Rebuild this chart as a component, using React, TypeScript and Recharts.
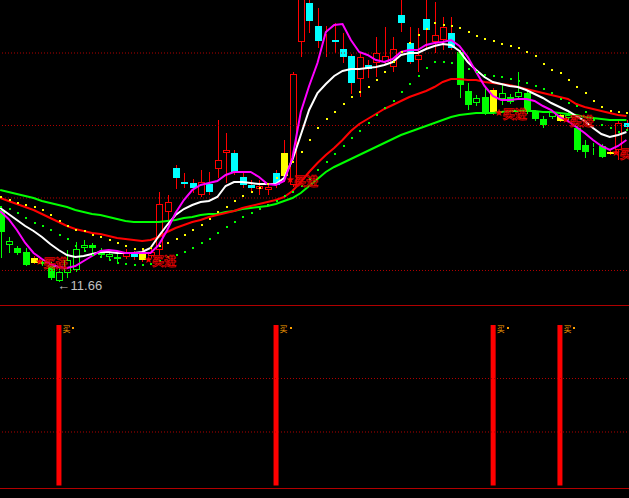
import React from 'react';
import { ComposedChart, Bar, Line, Scatter, XAxis, YAxis, ReferenceLine, LabelList } from 'recharts';

// ---- data (prices) ----
const opens = [12.38,12.03,12.00,11.96,11.90,11.86,11.83,11.67,11.75,11.78,
  12.00,12.03,11.97,11.91,11.91,11.91,11.94,11.96,11.92,11.98,
  12.36,12.80,12.66,12.65,12.53,12.64,12.79,12.95,12.95,12.71,
  12.63,12.59,12.58,12.75,12.72,12.63,14.06,14.45,14.22,14.14,
  14.08,13.99,13.92,13.69,13.83,13.85,13.86,13.81,14.33,14.05,
  13.88,14.29,14.06,14.08,14.15,13.96,13.57,13.45,13.51,13.58,
  13.49,13.51,13.51,13.55,13.36,13.29,13.31,13.33,13.30,13.20,
  13.03,13.00,13.02,12.96,12.98,13.25];
const closes = [12.16,12.07,11.95,11.83,11.85,11.84,11.70,11.76,11.88,11.99,
  12.03,12.00,11.93,11.94,11.89,11.95,11.91,11.88,11.96,12.44,
  12.46,12.70,12.64,12.60,12.66,12.56,12.88,12.98,12.75,12.63,
  12.60,12.62,12.61,12.63,12.95,13.74,14.53,14.27,14.07,14.15,
  14.06,13.91,13.65,13.91,13.79,13.95,13.92,13.99,14.25,13.86,
  13.93,14.18,14.13,14.21,14.00,13.63,13.43,13.50,13.35,13.35,
  13.55,13.46,13.56,13.36,13.29,13.23,13.36,13.27,13.33,12.98,
  12.96,13.01,12.91,12.94,13.25,13.21];
const highs = [12.40,12.11,12.02,12.00,11.92,11.89,11.86,11.82,11.98,12.06,
  12.08,12.05,12.00,11.98,11.96,11.99,11.97,12.00,11.99,12.56,
  12.53,12.83,12.75,12.69,12.78,12.76,13.28,13.15,12.98,12.76,
  12.68,12.68,12.65,12.78,13.08,13.76,14.58,14.50,14.40,14.22,
  14.25,14.15,13.94,13.95,13.88,14.11,14.21,14.11,14.53,14.21,
  14.20,14.51,14.46,14.31,14.31,13.98,13.65,13.53,13.61,13.60,
  13.63,13.54,13.76,13.58,13.38,13.32,13.38,13.35,13.36,13.22,
  13.08,13.05,13.04,12.98,13.28,13.28];
const lows = [11.90,11.95,11.93,11.82,11.84,11.82,11.68,11.66,11.70,11.76,
  11.96,11.95,11.90,11.89,11.86,11.89,11.88,11.86,11.90,11.92,
  12.23,12.59,12.60,12.55,12.51,12.53,12.70,12.65,12.73,12.60,
  12.56,12.53,12.53,12.60,12.66,12.61,13.91,14.15,14.00,13.91,
  13.95,13.85,13.54,13.51,13.70,13.71,13.84,13.76,14.16,13.84,
  13.76,14.00,13.95,13.98,13.98,13.50,13.38,13.42,13.33,13.33,
  13.43,13.44,13.50,13.34,13.27,13.20,13.29,13.26,13.28,12.96,
  12.90,12.93,12.90,12.93,12.88,13.18];
// g = weak trend, r = strong trend, y = signal day
const trendCodes = ('ggggyggggggggggrryrr' + 'rrrrrrrrrrrrrryrrrrr' +
  'rrrrrrrrrrrrrrrggggy' + 'gggggggygggggyrr').split('');

const ma5 = [12.37,12.29,12.18,12.05,11.95,11.89,11.84,11.81,11.80,11.82,
  11.87,11.92,11.97,11.98,11.97,11.95,11.95,11.95,11.95,12.03,
  12.18,12.35,12.48,12.58,12.63,12.65,12.67,12.73,12.76,12.76,
  12.76,12.71,12.64,12.63,12.67,12.90,13.36,13.62,13.85,14.16,
  14.23,14.24,14.08,13.96,13.93,13.88,13.86,13.89,13.96,13.98,
  13.98,14.03,14.05,14.06,14.08,14.02,13.91,13.76,13.62,13.52,
  13.48,13.48,13.49,13.49,13.47,13.42,13.38,13.31,13.27,13.21,
  13.15,13.08,13.02,12.98,13.02,13.08];
const ma10 = [12.40,12.34,12.28,12.22,12.17,12.11,12.04,11.98,11.93,11.91,
  11.92,11.94,11.96,11.96,11.95,11.95,11.95,11.96,12.00,12.12,
  12.23,12.33,12.39,12.43,12.46,12.47,12.51,12.62,12.66,12.66,
  12.65,12.64,12.64,12.64,12.70,12.88,13.13,13.38,13.55,13.64,
  13.72,13.77,13.79,13.79,13.80,13.81,13.83,13.86,13.93,13.95,
  13.95,13.99,14.02,14.04,14.03,13.97,13.86,13.78,13.71,13.66,
  13.64,13.62,13.61,13.58,13.54,13.50,13.45,13.41,13.37,13.32,
  13.27,13.20,13.14,13.11,13.13,13.16];
const ma20 = [12.50,12.47,12.44,12.41,12.38,12.34,12.30,12.26,12.22,12.19,
  12.17,12.15,12.14,12.12,12.10,12.09,12.08,12.07,12.08,12.11,
  12.16,12.20,12.23,12.26,12.28,12.31,12.33,12.35,12.37,12.40,
  12.42,12.44,12.46,12.48,12.51,12.57,12.66,12.76,12.85,12.93,
  13.00,13.08,13.17,13.24,13.29,13.34,13.39,13.43,13.47,13.51,
  13.54,13.57,13.61,13.66,13.69,13.69,13.68,13.68,13.66,13.65,
  13.64,13.63,13.61,13.59,13.57,13.55,13.53,13.51,13.49,13.44,
  13.41,13.39,13.37,13.35,13.33,13.32];
const ma60 = [12.58,12.56,12.54,12.52,12.50,12.47,12.45,12.43,12.41,12.38,
  12.36,12.34,12.33,12.31,12.29,12.27,12.26,12.26,12.26,12.26,
  12.27,12.28,12.30,12.31,12.33,12.34,12.34,12.36,12.37,12.39,
  12.40,12.41,12.42,12.44,12.47,12.50,12.55,12.62,12.69,12.76,
  12.81,12.85,12.89,12.93,12.97,13.01,13.05,13.09,13.13,13.16,
  13.19,13.22,13.25,13.28,13.31,13.33,13.34,13.35,13.35,13.35,
  13.36,13.37,13.37,13.37,13.37,13.36,13.36,13.35,13.34,13.33,
  13.31,13.30,13.29,13.28,13.28,13.28];
const dotUpper = [12.51,12.48,12.45,12.43,12.41,12.38,12.33,12.27,12.22,12.18,
  12.17,12.13,12.11,12.08,12.05,12.02,11.99,11.99,12.00,12.02,
  12.05,12.09,12.13,12.18,12.23,12.29,12.36,12.41,12.47,12.52,
  12.56,12.60,12.64,12.70,12.77,12.86,12.96,13.08,13.20,13.29,
  13.36,13.44,13.51,13.56,13.61,13.68,13.76,13.86,13.96,14.05,
  14.13,14.19,14.25,14.23,14.22,14.20,14.16,14.12,14.09,14.07,
  14.04,14.02,14.00,13.96,13.92,13.84,13.78,13.75,13.68,13.61,
  13.55,13.47,13.41,13.37,13.36,13.35];
const dotLower = [12.41,12.39,12.35,12.30,12.25,12.22,12.18,12.13,12.09,12.02,
  11.97,11.93,11.91,11.88,11.85,11.84,11.83,11.83,11.84,11.87,
  11.91,11.93,11.96,12.00,12.05,12.09,12.15,12.21,12.26,12.31,
  12.35,12.39,12.43,12.47,12.52,12.56,12.62,12.69,12.78,12.86,
  12.94,13.02,13.10,13.17,13.25,13.33,13.40,13.47,13.56,13.64,
  13.72,13.80,13.86,13.86,13.85,13.82,13.79,13.76,13.73,13.72,
  13.71,13.69,13.67,13.65,13.62,13.59,13.55,13.49,13.45,13.42,
  13.36,13.28,13.23,13.20,13.16,13.18];

const buyIdx = [7, 33, 59, 67];
const markIdx = [4, 17, 34, 59, 67, 73];
const lowIdx = 7;
const lowText = '←11.66';
const markText = '买进';
const buyText = '买';
const gridPrices = [13.95, 13.225, 12.5, 11.775];
const priceDomain = [11.43, 14.48];
const signalDomain = [-0.0218, 1.1246];
const signalGrid = [1 / 3, 2 / 3];
const signalFrame = [1.1215, -0.0187];

// ---- layout / style ----
const BAND = 8.35;
const N = opens.length;
const CW = BAND * N;
const SHIFT = BAND / 2;
const RED = '#FF0000';
const CYAN = '#00FFFF';
const GREEN = '#00FF00';
const YELLOW = '#FFFF00';
const GRID = '#B40000';

const data = opens.map((o, i) => ({
  i,
  open: o,
  close: closes[i],
  high: highs[i],
  low: lows[i],
  trend: trendCodes[i],
  ma5: ma5[i],
  ma10: ma10[i],
  ma20: ma20[i],
  ma60: ma60[i],
  du: dotUpper[i],
  dl: dotLower[i],
  mark: markIdx.includes(i) ? lows[i] : null,
  lowMark: i === lowIdx ? lows[i] : null,
  buy: buyIdx.includes(i) ? 1 : null,
}));

function Candle(props: any) {
  const { x, y, width, height, payload } = props;
  if (!payload || !isFinite(y) || !isFinite(height)) return <g />;
  const { open, close, high, low, trend } = payload;
  const top = Math.min(y, y + height);
  const bot = Math.max(y, y + height);
  const span = high - low;
  const py = (v: number) => (span > 0 ? top + ((high - v) / span) * (bot - top) : top);
  const cx = Math.round(x + width / 2);
  const up = close > open;
  let body = RED;
  let wick = RED;
  let hollow = false;
  if (trend === 'y') { body = YELLOW; wick = RED; hollow = false; }
  else if (trend === 'g') { body = GREEN; wick = GREEN; hollow = up; }
  else { body = up ? RED : CYAN; wick = RED; hollow = up; }
  const bt = Math.round(py(Math.max(open, close)));
  const bb = Math.max(bt + 1, Math.round(py(Math.min(open, close))));
  const hy = Math.round(top);
  const ly = Math.round(bot);
  const left = cx - 3;
  return (
    <g shapeRendering="crispEdges">
      {hy < bt && <line x1={cx + 0.5} x2={cx + 0.5} y1={hy} y2={bt} stroke={wick} strokeWidth={1} />}
      {ly > bb && <line x1={cx + 0.5} x2={cx + 0.5} y1={bb} y2={ly} stroke={wick} strokeWidth={1} />}
      {hollow ? (
        <rect x={left + 0.5} y={bt + 0.5} width={6} height={Math.max(bb - bt - 1, 0)} fill="#000" stroke={body} strokeWidth={1} />
      ) : (
        <rect x={left} y={bt} width={7} height={bb - bt} fill={body} />
      )}
    </g>
  );
}

const makeDot = (color: string) => (p: any) => {
  if (p == null || p.cy == null || !isFinite(p.cy)) return <g />;
  return <rect x={Math.round(p.cx)} y={Math.round(p.cy) - 1} width={2} height={2} fill={color} shapeRendering="crispEdges" />;
};
const YellowDot = makeDot(YELLOW);
const GreenDot = makeDot(GREEN);

function MarkShape(p: any) {
  if (!p || !p.payload || p.payload.mark == null || !isFinite(p.cy)) return <g />;
  const { cx, cy } = p;
  return (
    <g>
      <text x={cx + 6} y={cy + 1.5} fontSize={10} fill={RED} textAnchor="middle" fontFamily="DejaVu Sans">★</text>
      <text x={cx + 10} y={cy + 4} fontSize={12} fill="none" stroke="#E00000" strokeWidth={0.8}
        fontFamily="Noto Sans CJK SC" fontWeight="bold">{markText}</text>
    </g>
  );
}

function LowShape(p: any) {
  if (!p || !p.payload || p.payload.lowMark == null || !isFinite(p.cy)) return <g />;
  const { cx, cy } = p;
  return (
    <text x={cx - 1} y={cy + 8} fontSize={13} fill="#C0C0C0" fontFamily="Liberation Sans">{lowText}</text>
  );
}

function BuyLabel(p: any) {
  const { x, y, width, value } = p;
  if (value == null || !isFinite(x) || !isFinite(y)) return null;
  return (
    <g>
      <text x={x + width + 1} y={y + 7} fontSize={8} fill="#FFA000" fontFamily="Noto Sans CJK SC">{buyText}</text>
      <rect x={Math.round(x + width + 11)} y={Math.round(y + 2)} width={2} height={2} fill="#FFA000" />
    </g>
  );
}

export default function App() {
  return (
    <div style={{ position: 'absolute', left: 0, top: 0, width: 629, height: 498, overflow: 'hidden', background: '#000' }}>
      <div style={{ position: 'absolute', left: -SHIFT, top: 0 }}>
        <ComposedChart width={CW} height={305} data={data} margin={{ top: 0, right: 0, bottom: 0, left: 0 }}>
          <XAxis dataKey="i" type="category" hide />
          <YAxis hide type="number" domain={priceDomain} allowDataOverflow />
          {gridPrices.map((g) => (
            <ReferenceLine key={g} y={g} stroke={GRID} strokeDasharray="1 2" />
          ))}
          <Bar dataKey={(d: any) => [d.low, d.high]} barSize={7} shape={Candle} isAnimationActive={false} />
          <Scatter dataKey="dl" shape={GreenDot} isAnimationActive={false} />
          <Scatter dataKey="du" shape={YellowDot} isAnimationActive={false} />
          <Line type="linear" dataKey="ma60" stroke={GREEN} strokeWidth={2} dot={false} activeDot={false} isAnimationActive={false} />
          <Line type="linear" dataKey="ma20" stroke={RED} strokeWidth={2} dot={false} activeDot={false} isAnimationActive={false} />
          <Line type="linear" dataKey="ma10" stroke="#FFFFFF" strokeWidth={2} dot={false} activeDot={false} isAnimationActive={false} />
          <Line type="linear" dataKey="ma5" stroke="#FF00FF" strokeWidth={2} dot={false} activeDot={false} isAnimationActive={false} />
          <Scatter dataKey="mark" shape={MarkShape} isAnimationActive={false} />
          <Scatter dataKey="lowMark" shape={LowShape} isAnimationActive={false} />
        </ComposedChart>
      </div>
      <div style={{ position: 'absolute', left: -SHIFT, top: 305 }}>
        <ComposedChart width={CW} height={184} data={data} margin={{ top: 0, right: 0, bottom: 0, left: 0 }}>
          <XAxis dataKey="i" type="category" hide />
          <YAxis hide type="number" domain={signalDomain} allowDataOverflow />
          {signalFrame.map((v) => (
            <ReferenceLine key={v} y={v} stroke={GRID} strokeWidth={1} />
          ))}
          {signalGrid.map((v) => (
            <ReferenceLine key={v} y={v} stroke={GRID} strokeDasharray="1 2" />
          ))}
          <Bar dataKey="buy" barSize={5} fill={RED} isAnimationActive={false}>
            <LabelList dataKey="buy" content={BuyLabel} />
          </Bar>
        </ComposedChart>
      </div>
    </div>
  );
}
